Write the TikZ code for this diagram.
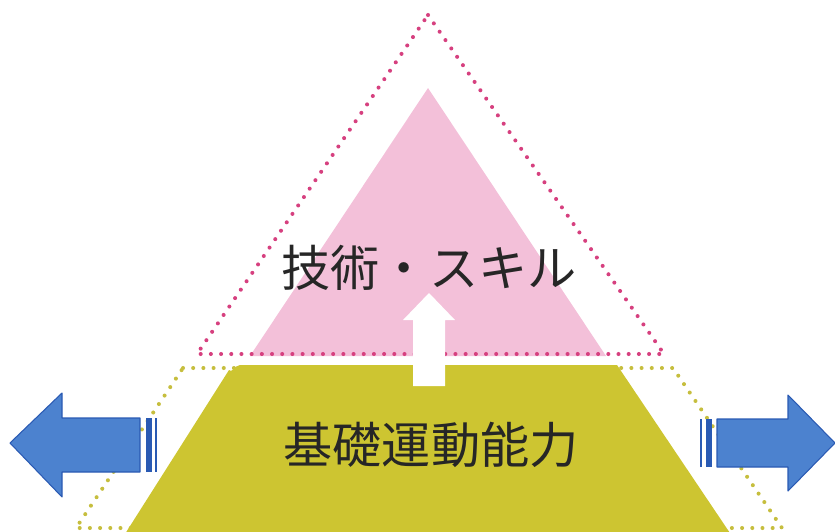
\documentclass[tikz,border=0pt]{standalone}
\usepackage{fontspec}
\newfontfamily\jpfont{Noto Sans CJK JP}
\usetikzlibrary{positioning}
\usetikzlibrary{calc}

\definecolor{pinkfill}{HTML}{F3C0D9}
\definecolor{pinkdot}{HTML}{D6407F}
\definecolor{olive}{HTML}{CDC531}
\definecolor{olivedot}{HTML}{C6BE3E}
\definecolor{bluefill}{HTML}{4C82CF}
\definecolor{blueedge}{HTML}{2A5AB3}

\begin{document}
\begin{tikzpicture}[x=0.02cm,y=-0.02cm]
                \useasboundingbox (0,0) rectangle (835,531);
                \clip (0,0) rectangle (835,531);
                \tikzset{
                    dotline/.style={line width=2.3pt, line cap=round, dash pattern=on 0pt off 5.8pt},
                    bluearrow/.style={fill=bluefill, draw=blueedge, line width=0.6pt, line join=round},
                    label/.style={font=\jpfont\fontsize{28}{30}\selectfont, inner sep=0pt, text=black!85}
                }
                % Define the coordinates of the points
                \coordinate (apex) at (428,15);
                \coordinate (pl) at (197,354);
                \coordinate (pr) at (664,354);
                \coordinate (yl) at (183,368);
                \coordinate (yr) at (673,368);
                \coordinate (bl) at (76,528);
                \coordinate (br) at (782,528);

                % dotted outlines and fills
                \draw[dotline, olivedot] (yl) -- (yr) -- (br) -- (bl) -- cycle;
                \fill[olive] (118,545) -- (229,370) to[out=-60,in=180] (240,365) -- (617,365) -- (738,545) -- cycle;
                \fill[pinkfill] (428,88) -- (606,356) -- (250,356) -- cycle;
                \draw[dotline, pinkdot] (apex) -- (pr) -- (pl) -- cycle;

                % white arrow between the two levels
                \fill[white] (413,386) -- (413,320) -- (403,320) -- (429,293) -- (455,320) -- (445,320) -- (445,386) -- cycle;

                % blue arrows
                \draw[bluearrow] (10,443) -- (62,393) -- (62,418) -- (140,418) -- (140,472) -- (62,472) -- (62,497) -- cycle;
                \draw[bluearrow] (835,443) -- (788,395) -- (788,419) -- (717,419) -- (717,467) -- (788,467) -- (788,491) -- cycle;
                \foreach \xa/\xb in {146/152, 154.5/157}
                    \fill[blueedge] (\xa,418) rectangle (\xb,472);
                \foreach \xa/\xb in {699.5/701.5, 706/712}
                    \fill[blueedge] (\xa,419) rectangle (\xb,467);

                % texts
                \node[label] (skill) at (429,268) {技術・スキル};
                \node[label] (basic) at (431,445) {基礎運動能力};
            \end{tikzpicture}
\end{document}
